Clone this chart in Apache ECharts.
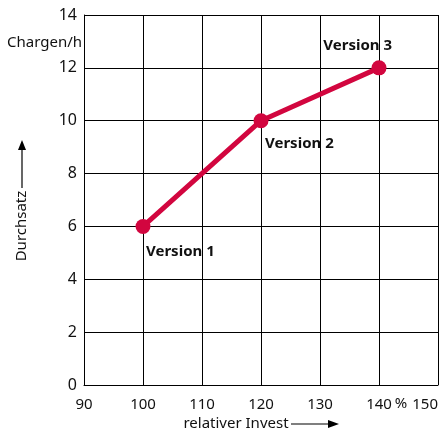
<!DOCTYPE html>
<html><head><meta charset="utf-8">
<script src="https://cdn.jsdelivr.net/npm/echarts@6/dist/echarts.min.js"></script>
<style>html,body{margin:0;padding:0;background:#fff}#c{width:448px;height:434px}</style>
</head><body><div id="c"></div>
<script>
const xValues = [100, 120, 140];
const yValues = [6, 10, 12];
const pointNames = ['Version 1', 'Version 2', 'Version 3'];
const xTicks = [90, 100, 110, 120, 130, 140, 150];
const yTicks = [0, 2, 4, 6, 8, 10, 12, 14];

const FONT = '"Noto Sans", sans-serif';
const RED = '#d2063f';
const labelCfg = [
  {position: 'bottom', align: 'left', offset: [3, 5]},
  {position: 'bottom', align: 'left', offset: [4, 3]},
  {position: 'top', align: 'right', offset: [13, -2]}
];

const chart = echarts.init(document.getElementById('c'), null, {renderer: 'canvas'});
chart.setOption({
  animation: false,
  grid: {left: 84, right: 10, top: 15, bottom: 49, containLabel: false, outerBoundsMode: 'none'},
  xAxis: {
    type: 'value', min: xTicks[0], max: xTicks[xTicks.length - 1], interval: 10,
    axisLine: {show: true, lineStyle: {color: '#000', width: 1}},
    axisTick: {show: false},
    splitLine: {show: true, lineStyle: {color: '#000', width: 1}},
    axisLabel: {color: '#111', fontFamily: FONT, fontSize: 15, margin: 12, alignMaxLabel: 'right'}
  },
  yAxis: {
    type: 'value', min: yTicks[0], max: yTicks[yTicks.length - 1], interval: 2,
    axisLine: {show: true, lineStyle: {color: '#000', width: 1}},
    axisTick: {show: false},
    splitLine: {show: true, lineStyle: {color: '#000', width: 1}},
    axisLabel: {color: '#111', fontFamily: FONT, fontSize: 16, margin: 7}
  },
  graphic: [
    {type: 'text', x: 82, y: 43, style: {text: 'Chargen/h', font: '15px ' + FONT, fill: '#111', textAlign: 'right', textVerticalAlign: 'middle'}},
    {type: 'text', x: 22, y: 226, rotation: Math.PI / 2, style: {text: 'Durchsatz', font: '15px ' + FONT, fill: '#111', textAlign: 'center', textVerticalAlign: 'middle'}},
    {type: 'line', shape: {x1: 22, y1: 188, x2: 22, y2: 148}, style: {stroke: '#000', lineWidth: 1.2}},
    {type: 'polygon', shape: {points: [[22, 140], [18, 150], [26, 150]]}, style: {fill: '#000'}},
    {type: 'text', x: 236, y: 424, style: {text: 'relativer Invest', font: '15px ' + FONT, fill: '#111', textAlign: 'center', textVerticalAlign: 'middle'}},
    {type: 'line', shape: {x1: 291, y1: 424, x2: 330, y2: 424}, style: {stroke: '#000', lineWidth: 1.2}},
    {type: 'polygon', shape: {points: [[339, 424], [328, 420], [328, 428]]}, style: {fill: '#000'}},
    {type: 'text', x: 401, y: 404, style: {text: '%', font: '15px ' + FONT, fill: '#111', textAlign: 'center', textVerticalAlign: 'middle'}}
  ],
  series: [{
    type: 'line',
    data: xValues.map((x, i) => ({
      value: [x, yValues[i]],
      label: Object.assign({show: true, formatter: pointNames[i]}, labelCfg[i])
    })),
    lineStyle: {color: RED, width: 5},
    itemStyle: {color: RED},
    symbol: 'circle', symbolSize: 15,
    label: {fontFamily: FONT, fontSize: 15, fontWeight: 'bold', color: '#111'}
  }]
});
</script></body></html>
